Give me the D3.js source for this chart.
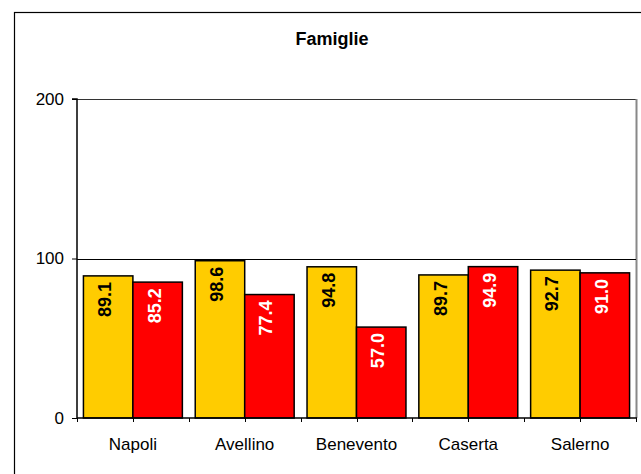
<!DOCTYPE html>
<html><head><meta charset="utf-8">
<script src="https://cdn.jsdelivr.net/npm/d3@7"></script>
<style>body{margin:0;background:#fff}svg{display:block;font-family:"Liberation Sans",Arial,sans-serif}</style>
</head><body><svg id="c" width="641" height="474"></svg>
<script>
const categories = ["Napoli","Avellino","Benevento","Caserta","Salerno"];
const seriesA = [89.1, 98.6, 94.8, 89.7, 92.7];
const seriesB = [85.2, 77.4, 57.0, 94.9, 91.0];
const yTicks = [0, 100, 200];
const title = "Famiglie";

const svg = d3.select("#c");
const L = 77, R = 636, T = 99, B = 418;
// outer chart border
svg.append("rect").attr("x",14.5).attr("y",12.5).attr("width",700).attr("height",500)
  .attr("fill","#fff").attr("stroke","#000").attr("stroke-width",1.2);

const x = d3.scaleBand().domain(categories).range([L, R]).padding(0);
const xs = d3.scaleBand().domain(["a","b"]).range([0, x.bandwidth()]).paddingInner(0).paddingOuter(0.13);
const y = d3.scaleLinear().domain([0,200]).range([B, T]);

// plot area border (top/right)
svg.append("line").attr("x1",L).attr("x2",R).attr("y1",y(200)+0.5).attr("y2",y(200)+0.5).attr("stroke","#333").attr("stroke-width",1.2);
svg.append("line").attr("x1",R+0.5).attr("x2",R+0.5).attr("y1",y(200)).attr("y2",B).attr("stroke","#888").attr("stroke-width",2);

// gridline
svg.append("line").attr("x1",L).attr("x2",R).attr("y1",Math.round(y(100))+0.5).attr("y2",Math.round(y(100))+0.5).attr("stroke","#000").attr("stroke-width",1);

const groups = svg.append("g").selectAll("g").data(categories).join("g")
  .attr("transform", d => `translate(${x(d)},0)`);
const series = [{k:"a", vals:seriesA, fill:"#FFCC00", tc:"#000"},{k:"b", vals:seriesB, fill:"#FF0000", tc:"#fff"}];
series.forEach(s => {
  groups.append("rect")
    .attr("x", xs(s.k)).attr("width", xs.bandwidth())
    .attr("y", (d,i) => y(s.vals[i])).attr("height", (d,i) => B - y(s.vals[i]))
    .attr("fill", s.fill).attr("stroke","#000").attr("stroke-width",1.5);
  groups.append("text")
    .attr("transform", (d,i) => `translate(${xs(s.k)+xs.bandwidth()/2+3},${y(s.vals[i])+6}) rotate(-90)`)
    .attr("text-anchor","end").attr("font-weight","bold").attr("font-size",18)
    .attr("fill", s.tc)
    .text((d,i) => s.vals[i].toFixed(1));
});

// y axis
const yAxis = d3.axisLeft(y).tickValues(yTicks).tickSize(5).tickPadding(8).tickFormat(d3.format("d"));
const gy = svg.append("g").attr("transform",`translate(${L},0)`).call(yAxis);
gy.select(".domain").attr("stroke","#000").attr("stroke-width",1.5).attr("d",`M-5,${T}H0V${B}`);
gy.selectAll(".tick line").attr("stroke","#000");
gy.selectAll("text").attr("font-size",17).attr("fill","#000").attr("font-family","Liberation Sans, Arial, sans-serif");

// x axis
const xAxis = d3.axisBottom(x).tickSize(0).tickPadding(20);
const gx = svg.append("g").attr("transform",`translate(0,${B})`).call(xAxis);
gx.select(".domain").attr("stroke","#000").attr("stroke-width",1.5).attr("d",`M${L},0H${R+1}`);
gx.selectAll("text").attr("font-size",17).attr("fill","#000").attr("font-family","Liberation Sans, Arial, sans-serif");
// tick marks at boundaries and centres
const tickPos = [];
categories.forEach(c => { tickPos.push(x(c)); tickPos.push(x(c)+x.bandwidth()/2); });
tickPos.push(R);
gx.selectAll("line.tm").data(tickPos).join("line").attr("class","tm")
  .attr("x1",d=>Math.round(d)+0.5).attr("x2",d=>Math.round(d)+0.5).attr("y1",0).attr("y2",4)
  .attr("stroke","#000").attr("stroke-width",1);

svg.append("text").attr("x",332).attr("y",45).attr("text-anchor","middle")
  .attr("font-weight","bold").attr("font-size",18).text(title);
</script></body></html>
